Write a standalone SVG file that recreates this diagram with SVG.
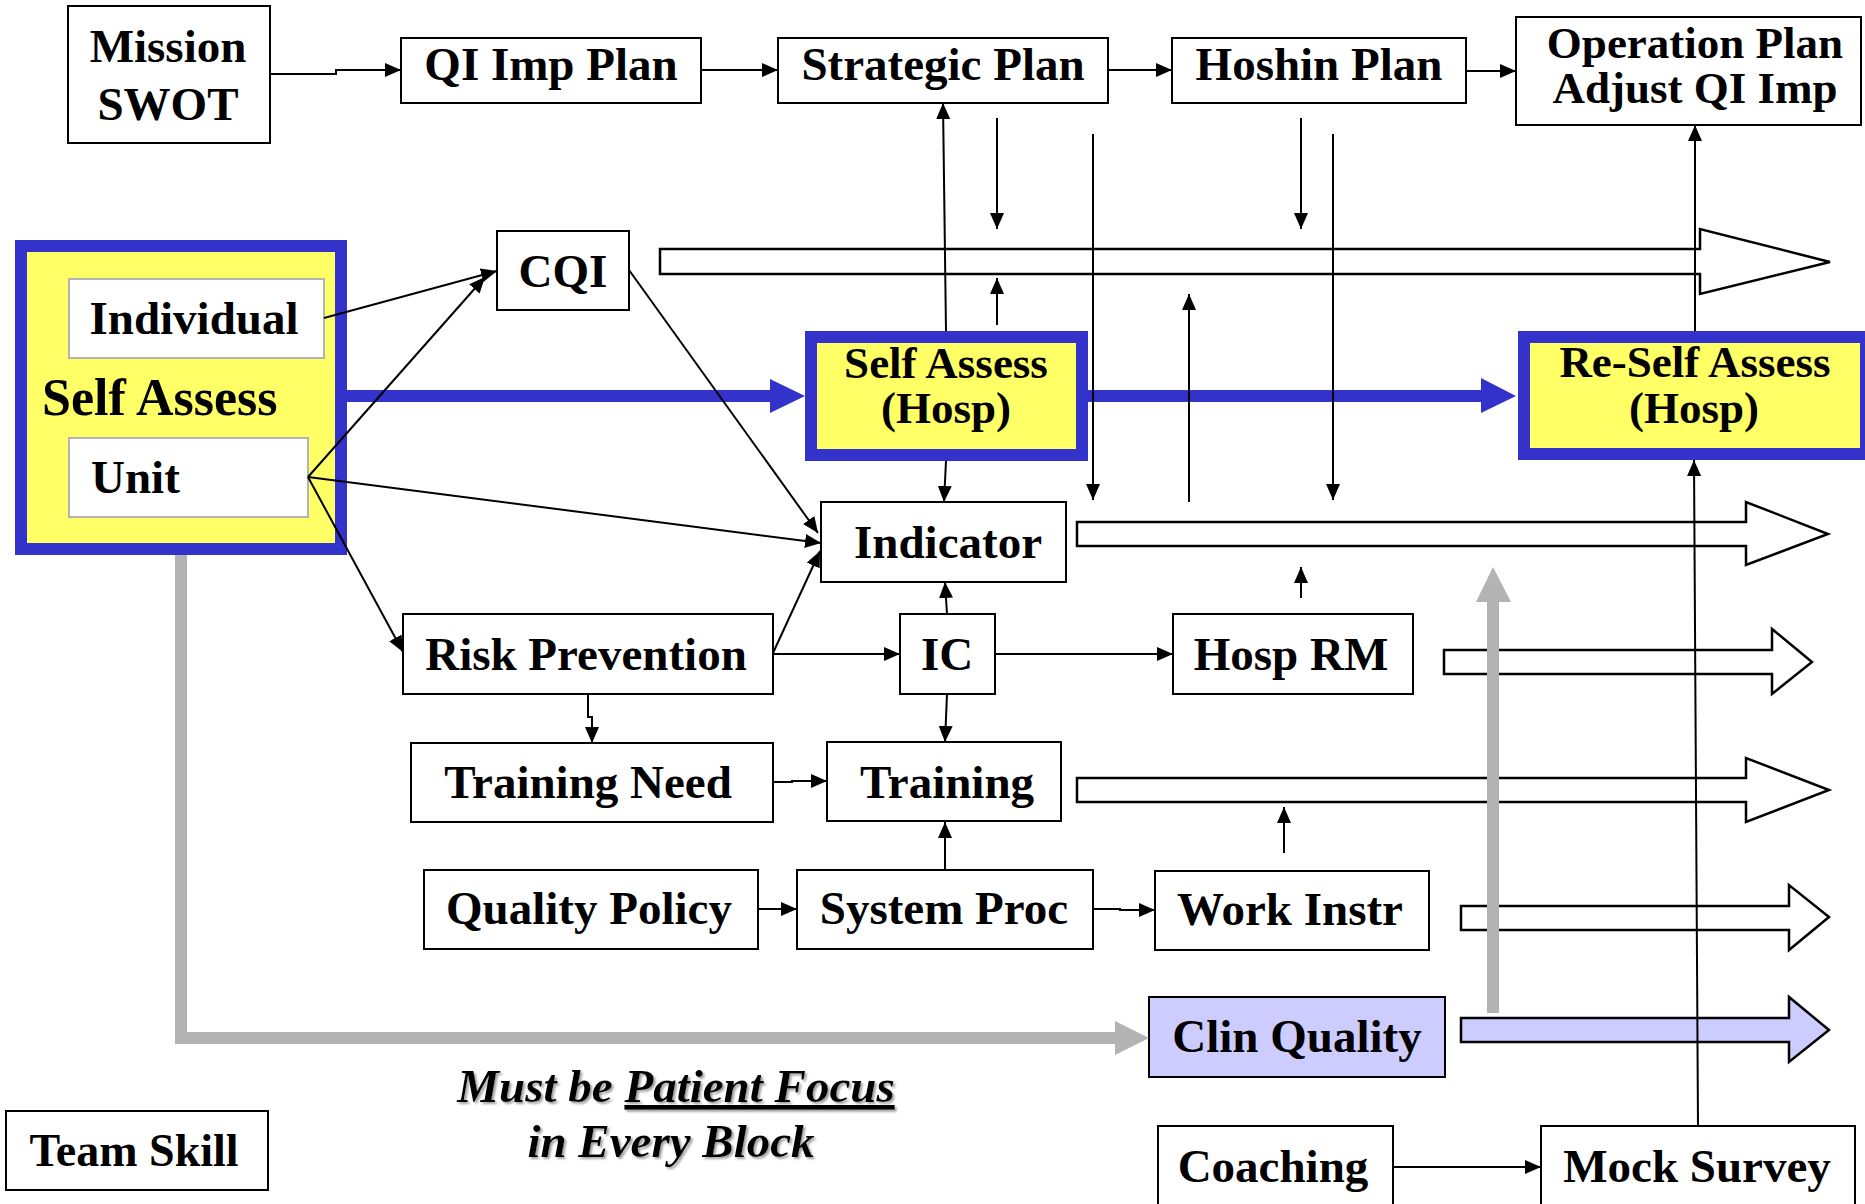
<svg xmlns="http://www.w3.org/2000/svg" width="1865" height="1204" viewBox="0 0 1865 1204">
<style>
.box{fill:#fff;stroke:#000;stroke-width:2}
.sub{fill:#fff;stroke:#b3b3b3;stroke-width:2}
.blue{fill:#ffff66;stroke:#3333cc;stroke-width:12}
.t{font-family:"Liberation Serif","Times New Roman",serif;font-weight:bold;font-size:47px;fill:#000;text-anchor:middle}
.t2{font-size:45px}
.ts{text-anchor:start}
.ln{fill:none;stroke:#000;stroke-width:2;marker-end:url(#ah)}
.hol{fill:#fff;stroke:#000;stroke-width:2.5;stroke-linejoin:miter}
.it{font-family:"Liberation Serif","Times New Roman",serif;font-weight:bold;font-style:italic;font-size:47px;fill:#000;text-anchor:middle}
</style>
<defs>
<marker id="ah" markerUnits="userSpaceOnUse" markerWidth="16" markerHeight="14" refX="16" refY="7" orient="auto" viewBox="0 0 16 14">
<path d="M0,0 L16,7 L0,14 z" fill="#000"/>
</marker>
<filter id="sh" x="-5%" y="-20%" width="110%" height="140%">
<feDropShadow dx="2" dy="2" stdDeviation="1" flood-color="#888" flood-opacity="0.8"/>
</filter>
</defs>

<g id="mission"><rect class="box" x="68" y="6" width="202" height="137"/><text class="t" x="168" y="62">Mission</text><text class="t" x="168" y="120">SWOT</text></g>
<g id="qi-imp-plan"><rect class="box" x="401" y="38" width="300" height="65"/><text class="t" x="551" y="80">QI Imp Plan</text></g>
<g id="strategic-plan"><rect class="box" x="778" y="38" width="330" height="65"/><text class="t" x="943" y="80">Strategic Plan</text></g>
<g id="hoshin-plan"><rect class="box" x="1172" y="38" width="294" height="65"/><text class="t" x="1319" y="80">Hoshin Plan</text></g>
<g id="operation-plan"><rect class="box" x="1516" y="17" width="345" height="108"/><text class="t t2" x="1695" y="58">Operation Plan</text><text class="t t2" x="1695" y="103">Adjust QI Imp</text></g>

<g id="self-assess"><rect class="blue" x="21" y="246" width="320" height="303"/>
<rect class="sub" x="69" y="279" width="255" height="79"/><text class="t" x="194" y="334">Individual</text>
<text class="t ts" x="42" y="415" style="font-size:52px">Self Assess</text>
<rect class="sub" x="69" y="438" width="239" height="79"/><text class="t ts" x="91" y="493">Unit</text></g>
<g id="cqi"><rect class="box" x="497" y="231" width="132" height="79"/><text class="t" x="563" y="287">CQI</text></g>
<g id="self-assess-hosp"><rect class="blue" x="811" y="337" width="271" height="118"/><text class="t t2" x="946" y="378">Self Assess</text><text class="t t2" x="946" y="423">(Hosp)</text></g>
<g id="re-self-assess"><rect class="blue" x="1524" y="337" width="342" height="117"/><text class="t t2" x="1695" y="377">Re-Self Assess</text><text class="t t2" x="1694" y="423">(Hosp)</text></g>
<g id="indicator"><rect class="box" x="821" y="502" width="245" height="80"/><text class="t" x="948" y="558">Indicator</text></g>
<g id="risk-prevention"><rect class="box" x="403" y="614" width="370" height="80"/><text class="t" x="586" y="670">Risk Prevention</text></g>
<g id="ic"><rect class="box" x="900" y="614" width="95" height="80"/><text class="t" x="947" y="670">IC</text></g>
<g id="hosp-rm"><rect class="box" x="1173" y="614" width="240" height="80"/><text class="t" x="1291" y="670">Hosp RM</text></g>
<g id="training-need"><rect class="box" x="411" y="743" width="362" height="79"/><text class="t" x="588" y="798">Training Need</text></g>
<g id="training"><rect class="box" x="827" y="742" width="234" height="79"/><text class="t" x="947" y="798">Training</text></g>
<g id="quality-policy"><rect class="box" x="424" y="870" width="334" height="79"/><text class="t" x="589" y="924">Quality Policy</text></g>
<g id="system-proc"><rect class="box" x="797" y="870" width="296" height="79"/><text class="t" x="944" y="924">System Proc</text></g>
<g id="work-instr"><rect class="box" x="1155" y="871" width="274" height="79"/><text class="t" x="1290" y="925">Work Instr</text></g>
<g id="clin-quality"><rect class="box" x="1149" y="997" width="296" height="80" style="fill:#ccccff"/><text class="t" x="1297" y="1052">Clin Quality</text></g>
<g id="team-skill"><rect class="box" x="6" y="1111" width="262" height="79"/><text class="t" x="134" y="1166" style="font-size:46px">Team Skill</text></g>
<g id="coaching"><rect class="box" x="1158" y="1126" width="235" height="90"/><text class="t" x="1273" y="1182">Coaching</text></g>
<g id="mock-survey"><rect class="box" x="1541" y="1126" width="314" height="90"/><text class="t" x="1697" y="1182">Mock Survey</text></g>
<g id="note" filter="url(#sh)"><text class="it" x="676" y="1102">Must be <tspan text-decoration="underline">Patient Focus</tspan></text><text class="it" x="671" y="1157">in Every Block</text></g>

<g id="connectors">
<polygon class="hol" points="660,249 1700,249 1700,229 1830,262 1700,294 1700,274 660,274"/>
<polygon class="hol" points="1077,522 1746,522 1746,502 1828,534 1746,565 1746,546 1077,546"/>
<polygon class="hol" points="1444,650 1772,650 1772,629 1812,662 1772,694 1772,674 1444,674"/>
<polygon class="hol" points="1077,778 1746,778 1746,758 1829,790 1746,822 1746,802 1077,802"/>
<polygon class="hol" points="1461,906 1789,906 1789,885 1829,917 1789,950 1789,930 1461,930"/>
<polygon class="hol" points="1461,1018 1789,1018 1789,997 1829,1030 1789,1062 1789,1042 1461,1042" style="fill:#ccccff"/>

<path d="M347,390 H770 V379 L805,396 L770,413 V402 H347 z" fill="#3333cc"/>
<path d="M1088,390 H1481 V378 L1516,396 L1481,413 V402 H1088 z" fill="#3333cc"/>

<path d="M181,555 V1038 H1117" fill="none" stroke="#b3b3b3" stroke-width="12"/>
<polygon points="1115,1021 1149,1038 1115,1055" fill="#b3b3b3"/>
<path d="M1493,1013 V600" fill="none" stroke="#b3b3b3" stroke-width="12"/>
<polygon points="1476,602 1493,567 1511,602" fill="#b3b3b3"/>

<polyline class="ln" points="270,74 336,74 336,70 401,70"/>
<line class="ln" x1="701" y1="70" x2="778" y2="70"/>
<line class="ln" x1="1108" y1="70" x2="1172" y2="70"/>
<line class="ln" x1="1466" y1="71" x2="1516" y2="71"/>
<line class="ln" x1="946" y1="331" x2="943" y2="103"/>
<line class="ln" x1="997" y1="118" x2="997" y2="229"/>
<line class="ln" x1="1093" y1="134" x2="1093" y2="500"/>
<line class="ln" x1="1301" y1="118" x2="1301" y2="229"/>
<line class="ln" x1="1333" y1="134" x2="1333" y2="500"/>
<line class="ln" x1="997" y1="325" x2="997" y2="278"/>
<line class="ln" x1="1189" y1="502" x2="1189" y2="294"/>
<line class="ln" x1="1695" y1="331" x2="1695" y2="125"/>
<line class="ln" x1="1698" y1="1126" x2="1694" y2="460"/>
<line class="ln" x1="324" y1="318" x2="497" y2="271"/>
<line class="ln" x1="308" y1="477" x2="485" y2="277"/>
<line class="ln" x1="308" y1="477" x2="821" y2="543"/>
<line class="ln" x1="308" y1="477" x2="403" y2="652"/>
<line class="ln" x1="629" y1="270" x2="818" y2="533"/>
<line class="ln" x1="773" y1="653" x2="820" y2="551"/>
<line class="ln" x1="773" y1="654" x2="900" y2="654"/>
<line class="ln" x1="995" y1="654" x2="1173" y2="654"/>
<line class="ln" x1="947" y1="614" x2="945" y2="582"/>
<line class="ln" x1="946" y1="461" x2="944" y2="502"/>
<line class="ln" x1="1301" y1="598" x2="1301" y2="567"/>
<line class="ln" x1="947" y1="694" x2="945" y2="742"/>
<polyline class="ln" points="588,694 588,717 592,717 592,743"/>
<polyline class="ln" points="773,782 792,782 792,781 827,781"/>
<line class="ln" x1="758" y1="909" x2="797" y2="909"/>
<line class="ln" x1="945" y1="870" x2="945" y2="822"/>
<polyline class="ln" points="1093,909 1120,909 1120,910 1155,910"/>
<line class="ln" x1="1284" y1="853" x2="1284" y2="807"/>
<line class="ln" x1="1393" y1="1167" x2="1541" y2="1167"/>
</g>
</svg>
